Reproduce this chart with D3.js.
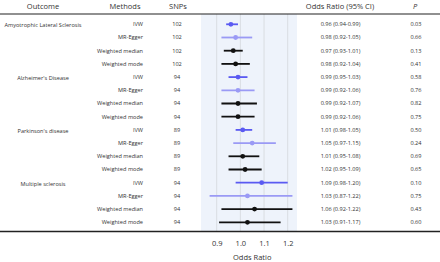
<!DOCTYPE html>
<html>
<head>
<meta charset="utf-8">
<script src="https://cdn.jsdelivr.net/npm/d3@7"></script>
<style>
  body { margin: 0; background: #fff; }
  text { font-family: "Open Sans", sans-serif; fill: #333; }
</style>
</head>
<body>
<div id="chart"></div>
<script>
// Outcomes and methods
const outcomes = ["Amyotrophic Lateral Sclerosis", "Alzheimer's Disease", "Parkinson's disease", "Multiple sclerosis"];
const methods = ["IVW", "MR-Egger", "Weighted median", "Weighted mode"];

// one entry per row (outcome x method)
const snps = [102, 102, 102, 102, 94, 94, 94, 94, 89, 89, 89, 89, 94, 94, 94, 94];
const orValues = [0.96, 0.98, 0.97, 0.98, 0.99, 0.99, 0.99, 0.99, 1.01, 1.05, 1.01, 1.02, 1.09, 1.03, 1.06, 1.03];
const ciLow = [0.94, 0.92, 0.93, 0.92, 0.95, 0.92, 0.92, 0.92, 0.98, 0.97, 0.95, 0.95, 0.98, 0.87, 0.92, 0.91];
const ciHigh = [0.99, 1.05, 1.01, 1.04, 1.03, 1.06, 1.07, 1.06, 1.05, 1.15, 1.08, 1.09, 1.20, 1.22, 1.22, 1.17];
const pValues = ["0.03", "0.66", "0.13", "0.41", "0.58", "0.76", "0.82", "0.75", "0.50", "0.24", "0.69", "0.65", "0.10", "0.75", "0.43", "0.60"];
const xTicks = [0.9, 1.0, 1.1, 1.2];

const methodColor = {
    "IVW": "#5a5af2",
    "MR-Egger": "#9a9af5",
    "Weighted median": "#111",
    "Weighted mode": "#111"
};

const rows = [];
outcomes.forEach((o, oi) => {
    methods.forEach((m, mi) => {
        const i = oi * methods.length + mi;
        rows.push({
            idx: i,
            outcome: mi === 0 ? o : "",
            method: m,
            snp: snps[i],
            or: orValues[i],
            lo: ciLow[i],
            hi: ciHigh[i],
            p: pValues[i]
        });
    });
});

const width = 440, height = 262;
const svg = d3.select("#chart")
    .append("svg")
    .attr("width", width)
    .attr("height", height);

const headerY = 6;
const topLine = 14, bottomLine = 231.5;

// forest panel
const panel = { left: 201, right: 297 };

const x = d3.scaleLinear()
    .domain([0.9, 1.2])
    .range([216.7, 287.7]);

const y = d3.scaleBand()
    .domain(rows.map(d => d.idx))
    .range([17.7, 228.9]);
const yc = i => y(i) + y.bandwidth() / 2;

// panel background
svg.append("rect")
    .attr("x", panel.left)
    .attr("y", topLine)
    .attr("width", panel.right - panel.left)
    .attr("height", bottomLine - topLine)
    .attr("fill", "#eef3fb");

// grid lines
svg.selectAll(".grid")
    .data(xTicks)
    .join("line")
    .attr("class", "grid")
    .attr("x1", d => x(d))
    .attr("x2", d => x(d))
    .attr("y1", topLine)
    .attr("y2", bottomLine)
    .attr("stroke", "#d9dde2")
    .attr("stroke-width", 1);

// header + footer rules
svg.append("line")
    .attr("x1", 0).attr("x2", width)
    .attr("y1", topLine).attr("y2", topLine)
    .attr("stroke", "#222").attr("stroke-width", 1.2);
svg.append("line")
    .attr("x1", 0).attr("x2", width)
    .attr("y1", bottomLine).attr("y2", bottomLine)
    .attr("stroke", "#222").attr("stroke-width", 1.4);

// headers
const headers = [
    { t: "Outcome", x: 43 },
    { t: "Methods", x: 125 },
    { t: "SNPs", x: 178 },
    { t: "Odds Ratio (95% CI)", x: 340 },
    { t: "P", x: 415, italic: true }
];
svg.selectAll(".hdr")
    .data(headers)
    .join("text")
    .attr("class", "hdr")
    .attr("x", d => d.x)
    .attr("y", headerY)
    .attr("dy", "0.35em")
    .attr("text-anchor", "middle")
    .style("font-size", "7.5px")
    .style("font-style", d => d.italic ? "italic" : "normal")
    .text(d => d.t);

const bodySize = "5.6px";

// outcome labels
svg.selectAll(".outcome")
    .data(rows.filter(d => d.outcome))
    .join("text")
    .attr("class", "outcome")
    .attr("x", 43)
    .attr("y", d => yc(d.idx) + 1)
    .attr("dy", "0.35em")
    .attr("text-anchor", "middle")
    .style("font-size", bodySize)
    .text(d => d.outcome);

// methods
svg.selectAll(".method")
    .data(rows)
    .join("text")
    .attr("class", "method")
    .attr("x", 143)
    .attr("y", d => yc(d.idx))
    .attr("dy", "0.35em")
    .attr("text-anchor", "end")
    .style("font-size", bodySize)
    .text(d => d.method);

// SNPs
svg.selectAll(".snp")
    .data(rows)
    .join("text")
    .attr("class", "snp")
    .attr("x", 177)
    .attr("y", d => yc(d.idx))
    .attr("dy", "0.35em")
    .attr("text-anchor", "middle")
    .style("font-size", bodySize)
    .text(d => d.snp);

// OR (95% CI)
const f2 = d3.format(".2f");
svg.selectAll(".ortext")
    .data(rows)
    .join("text")
    .attr("class", "ortext")
    .attr("x", 340.5)
    .attr("y", d => yc(d.idx))
    .attr("dy", "0.35em")
    .attr("text-anchor", "middle")
    .style("font-size", bodySize)
    .text(d => `${f2(d.or)} (${f2(d.lo)}-${f2(d.hi)})`);

// P
svg.selectAll(".ptext")
    .data(rows)
    .join("text")
    .attr("class", "ptext")
    .attr("x", 416)
    .attr("y", d => yc(d.idx))
    .attr("dy", "0.35em")
    .attr("text-anchor", "middle")
    .style("font-size", bodySize)
    .text(d => d.p);

// CI lines
svg.selectAll(".ci")
    .data(rows)
    .join("line")
    .attr("class", "ci")
    .attr("x1", d => x(d.lo))
    .attr("x2", d => x(d.hi))
    .attr("y1", d => yc(d.idx))
    .attr("y2", d => yc(d.idx))
    .attr("stroke", d => methodColor[d.method])
    .attr("stroke-width", 1.8);

// points
svg.selectAll(".pt")
    .data(rows)
    .join("circle")
    .attr("class", "pt")
    .attr("cx", d => x(d.or))
    .attr("cy", d => yc(d.idx))
    .attr("r", 2.4)
    .attr("fill", d => methodColor[d.method]);

// x axis labels (no ticks, no domain)
const axis = svg.append("g")
    .attr("transform", `translate(0,${bottomLine + 6})`)
    .call(d3.axisBottom(x).tickValues(xTicks).tickSize(0).tickFormat(d3.format(".1f")));
axis.select(".domain").remove();
axis.selectAll("text")
    .style("font-family", "'Open Sans', sans-serif")
    .style("font-size", "7.5px")
    .attr("fill", "#333");

// axis title
svg.append("text")
    .attr("x", x(1.05))
    .attr("y", 257.5)
    .attr("dy", "0.35em")
    .attr("text-anchor", "middle")
    .style("font-size", "7.5px")
    .text("Odds Ratio");
</script>
</body>
</html>
